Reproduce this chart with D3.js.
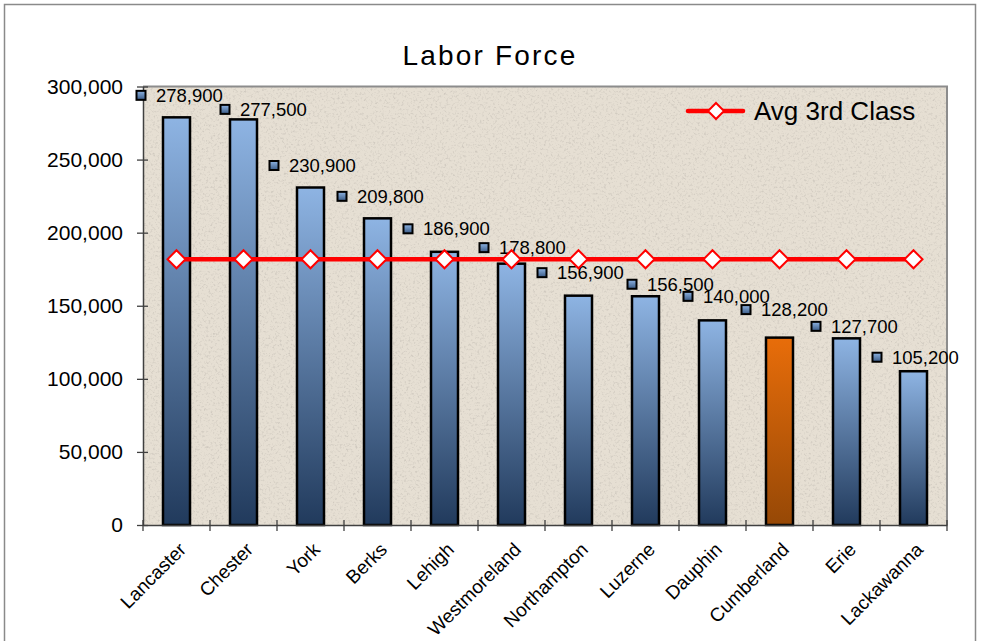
<!DOCTYPE html>
<html>
<head>
<meta charset="utf-8">
<script src="https://cdn.jsdelivr.net/npm/d3@7"></script>
<style>
  html, body { margin: 0; padding: 0; background: #fff; }
  svg { display: block; font-family: "Liberation Sans", Arial, sans-serif; }
</style>
</head>
<body>
<div id="chart"></div>
<script>
// ---- data ----
const categories = ["Lancaster", "Chester", "York", "Berks", "Lehigh", "Westmoreland",
  "Northampton", "Luzerne", "Dauphin", "Cumberland", "Erie", "Lackawanna"];
const laborForce = [278900, 277500, 230900, 209800, 186900, 178800,
  156900, 156500, 140000, 128200, 127700, 105200];
const avg3rdClass = [181800, 181800, 181800, 181800, 181800, 181800,
  181800, 181800, 181800, 181800, 181800, 181800];
const yTicks = [0, 50000, 100000, 150000, 200000, 250000, 300000];
const highlighted = "Cumberland";
const titleText = "Labor Force";
const legendText = "Avg 3rd Class";

// ---- layout (manual data-label placement, pixels relative to band start / bar top) ----
const labelOffsets = [[-2, -22], [15, -10], [-3, -22], [-2, -22], [-3, -23], [6, -16],
  [-3, -23], [20, -12], [9, -24], [0, -28], [3, -12], [-3, -14]];

const W = 991, H = 641;
const plot = { left: 143, right: 947, top: 86.5, bottom: 525 };

const svg = d3.select("#chart").append("svg").attr("width", W).attr("height", H);
const defs = svg.append("defs");

const blueGrad = defs.append("linearGradient").attr("id", "blueGrad")
  .attr("x1", 0).attr("y1", 0).attr("x2", 0).attr("y2", 1);
blueGrad.append("stop").attr("offset", "0%").attr("stop-color", "#8eb4e3");
blueGrad.append("stop").attr("offset", "100%").attr("stop-color", "#213a5c");

const orangeGrad = defs.append("linearGradient").attr("id", "orangeGrad")
  .attr("x1", 0).attr("y1", 0).attr("x2", 0).attr("y2", 1);
orangeGrad.append("stop").attr("offset", "0%").attr("stop-color", "#e86d0a");
orangeGrad.append("stop").attr("offset", "100%").attr("stop-color", "#964806");

const keyGrad = defs.append("linearGradient").attr("id", "keyGrad")
  .attr("x1", 0).attr("y1", 0).attr("x2", 0).attr("y2", 1);
keyGrad.append("stop").attr("offset", "0%").attr("stop-color", "#8eb4e3");
keyGrad.append("stop").attr("offset", "100%").attr("stop-color", "#3a5a85");

const noise = defs.append("filter").attr("id", "noise")
  .attr("x", 0).attr("y", 0).attr("width", "100%").attr("height", "100%");
noise.append("feTurbulence").attr("type", "fractalNoise").attr("baseFrequency", 0.45)
  .attr("numOctaves", 3).attr("seed", 7).attr("result", "t");
noise.append("feColorMatrix").attr("type", "matrix")
  .attr("values", "0 0 0 0 0.45  0 0 0 0 0.42  0 0 0 0 0.38  3.2 0 0 0 -1.65");

// outer frame
svg.append("rect").attr("x", 4.5).attr("y", 4.5).attr("width", 971).attr("height", 660)
  .attr("fill", "#fff").attr("stroke", "#8a8a8a").attr("stroke-width", 1.5);

// plot background
svg.append("rect").attr("x", plot.left).attr("y", plot.top)
  .attr("width", plot.right - plot.left).attr("height", plot.bottom - plot.top)
  .attr("fill", "#e6dfd3");
svg.append("rect").attr("x", plot.left).attr("y", plot.top)
  .attr("width", plot.right - plot.left).attr("height", plot.bottom - plot.top)
  .attr("fill", "#fff").attr("filter", "url(#noise)").attr("opacity", 0.4);
// plot border (top/right)
svg.append("path")
  .attr("d", `M${plot.left},${plot.top}H${plot.right}V${plot.bottom}`)
  .attr("fill", "none").attr("stroke", "#8c8c8c").attr("stroke-width", 2);

// scales
const x = d3.scaleBand().domain(categories).range([plot.left, plot.right]).paddingInner(0).paddingOuter(0);
const y = d3.scaleLinear().domain([0, 300000]).range([plot.bottom, plot.top]);
const barW = x.bandwidth() * 0.403;

// title
svg.append("text").attr("x", 490).attr("y", 65).attr("text-anchor", "middle")
  .attr("font-size", 28).attr("letter-spacing", "2.2px").attr("fill", "#000").text(titleText);

// bars
const rows = categories.map((c, i) => ({ c, v: laborForce[i], a: avg3rdClass[i], off: labelOffsets[i] }));
svg.append("g").selectAll("rect").data(rows).join("rect")
  .attr("x", d => x(d.c) + (x.bandwidth() - barW) / 2)
  .attr("y", d => y(d.v))
  .attr("width", barW)
  .attr("height", d => y(0) - y(d.v))
  .attr("fill", d => d.c === highlighted ? "url(#orangeGrad)" : "url(#blueGrad)")
  .attr("stroke", "#000").attr("stroke-width", 2.5);

// y axis
const yAxis = svg.append("g").attr("transform", `translate(${plot.left},0)`)
  .call(d3.axisLeft(y).tickValues(yTicks).tickFormat(d3.format(",")).tickSizeInner(6).tickSizeOuter(0).tickPadding(14));
yAxis.select(".domain").attr("stroke", "#404040").attr("stroke-width", 1.5);
yAxis.selectAll(".tick line").attr("x1", 5).attr("stroke", "#404040").attr("stroke-width", 1.3);
yAxis.selectAll(".tick text").attr("font-size", 21).attr("fill", "#000")
  .attr("font-family", "'Liberation Sans', Arial, sans-serif");

// x axis (ticks at category boundaries)
const xAxis = svg.append("g").attr("transform", `translate(0,${plot.bottom})`)
  .call(d3.axisBottom(x).tickSize(0).tickFormat(d => d));
xAxis.select(".domain").attr("stroke", "#404040").attr("stroke-width", 1.5);
xAxis.selectAll(".tick text")
  .attr("font-size", 19).attr("fill", "#000").attr("font-family", "'Liberation Sans', Arial, sans-serif")
  .attr("text-anchor", "end").attr("dy", "0.35em")
  .attr("transform", "translate(6,21) rotate(-45)").attr("y", 0).attr("x", 0);
const bounds = categories.map(c => x(c)).concat([x.range()[1]]);
xAxis.append("g").selectAll("line").data(bounds).join("line")
  .attr("x1", d => d).attr("x2", d => d).attr("y1", -5).attr("y2", 6)
  .attr("stroke", "#404040").attr("stroke-width", 1.3);

// data labels with legend keys
const lab = svg.append("g").selectAll("g").data(rows).join("g")
  .attr("transform", d => `translate(${x(d.c) + d.off[0]},${y(d.v) + d.off[1]})`);
lab.append("rect").attr("x", -4.5).attr("y", -4.5).attr("width", 9).attr("height", 9)
  .attr("fill", "url(#keyGrad)").attr("stroke", "#000").attr("stroke-width", 2);
lab.append("text").attr("x", 15).attr("y", 0).attr("dy", "0.35em")
  .attr("font-size", 18.5).attr("fill", "#000").text(d => d3.format(",")(d.v));

// average line
const line = d3.line().x(d => x(d.c) + x.bandwidth() / 2).y(d => y(d.a));
svg.append("path").datum(rows).attr("d", line)
  .attr("fill", "none").attr("stroke", "#ff0000").attr("stroke-width", 4.5);
const diamond = "M0,-9L9,0L0,9L-9,0Z";
svg.append("g").selectAll("path").data(rows).join("path")
  .attr("transform", d => `translate(${x(d.c) + x.bandwidth() / 2},${y(d.a)})`)
  .attr("d", diamond).attr("fill", "#fff").attr("stroke", "#ff0000").attr("stroke-width", 2);

// legend
const lg = svg.append("g").attr("transform", "translate(688,111)");
lg.append("line").attr("x1", 0).attr("x2", 55).attr("y1", 0).attr("y2", 0)
  .attr("stroke", "#ff0000").attr("stroke-width", 4.5).attr("stroke-linecap", "round");
lg.append("path").attr("transform", "translate(28,0)").attr("d", "M0,-8L8,0L0,8L-8,0Z")
  .attr("fill", "#fff").attr("stroke", "#ff0000").attr("stroke-width", 2);
lg.append("text").attr("x", 66).attr("y", 0).attr("dy", "0.36em")
  .attr("font-size", 26).attr("fill", "#000").text(legendText);
</script>
</body>
</html>
